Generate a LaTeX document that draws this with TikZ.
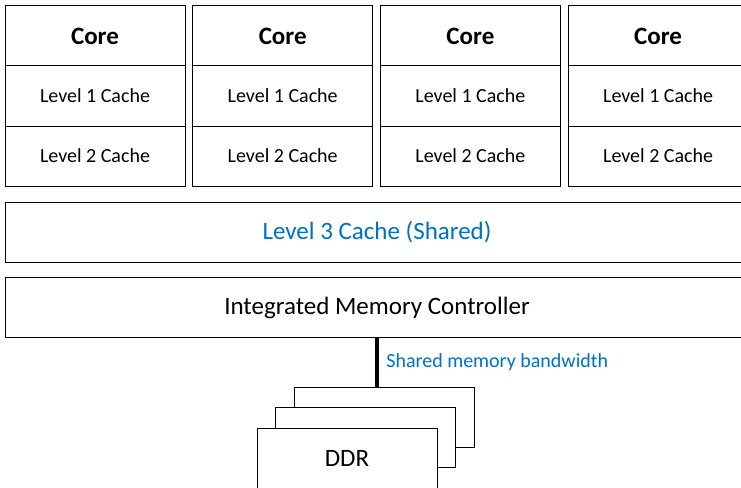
\documentclass[tikz,border=0pt]{standalone}
\usepackage{fontspec}
\setmainfont{Carlito}
\usetikzlibrary{positioning}
\definecolor{capblue}{HTML}{0070C0}

\begin{document}
\begin{tikzpicture}[x=1pt,y=-1pt,
  cell/.style={draw,line width=1pt,outer sep=0pt,inner sep=0pt,
    minimum width=180pt,minimum height=60pt,font=\fontsize{20}{24}\selectfont},
  wide/.style={draw,line width=1pt,outer sep=0pt,inner sep=0pt,
    minimum width=744pt,minimum height=60pt,font=\fontsize{25}{30}\selectfont},
  ddrbox/.style={draw,fill=white,line width=1pt,outer sep=0pt,
    minimum width=180pt,minimum height=60pt,font=\fontsize{25}{30}\selectfont}]
\useasboundingbox (0,0) rectangle (741,487);
\def\colw{187.7}

% cores with their private caches
\foreach \i in {1,...,4}{
  \node[cell,font=\fontsize{25}{30}\selectfont\bfseries] (core\i) at (95+\colw*\i-\colw,36) {Core};
  \node[cell,below=0pt of core\i] (lone\i) {Level 1 Cache};
  \node[cell,below=0pt of lone\i] (ltwo\i) {Level 2 Cache};
}

\node[wide,text=capblue] (lthree) at (377,232) {Level 3 Cache (Shared)};
\node[wide] (imc) at (377,307.5) {Integrated Memory Controller};

% stacked DDR modules
\node[ddrbox] (ddrc) at (384,417) {};
\node[ddrbox] (ddrb) at (365,437) {};
\node[ddrbox] (ddra) at (347,458) {DDR};

\draw[line width=4pt] (imc.south) -- (imc.south |- ddrc.north)
  node[midway,right,xshift=4pt,text=capblue,font=\fontsize{20}{24}\selectfont] (bwlabel) {Shared memory bandwidth};
\end{tikzpicture}
\end{document}
